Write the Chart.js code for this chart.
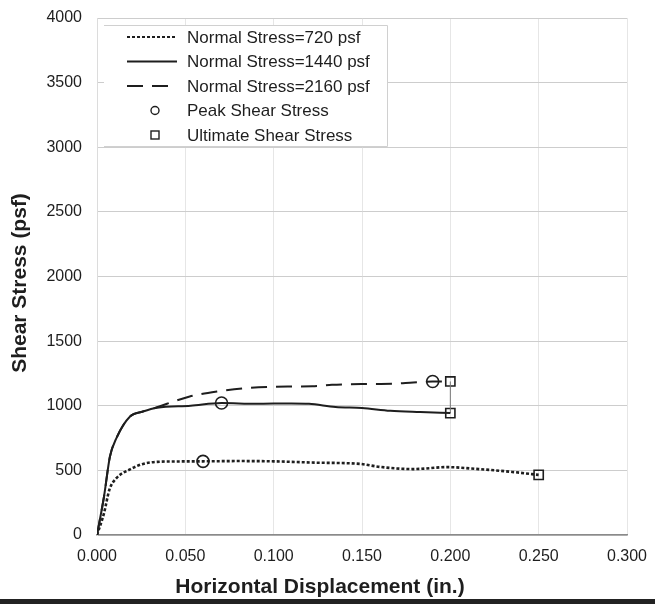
<!DOCTYPE html>
<html>
<head>
<meta charset="utf-8">
<script src="https://cdn.jsdelivr.net/npm/chart.js@4.4.0/dist/chart.umd.min.js"></script>
<style>
  html, body { margin: 0; padding: 0; background: #fff; }
  #wrap { width: 655px; height: 604px; }
</style>
</head>
<body>
<div id="wrap"><canvas id="chart" width="655" height="604"></canvas></div>
<script>
const xTitle = 'Horizontal Displacement (in.)';
const yTitle = 'Shear Stress (psf)';

// normal stress = 720 psf
const disp720 = [0, 0.004, 0.007, 0.011, 0.019, 0.026, 0.034, 0.045, 0.060, 0.080, 0.100, 0.123, 0.149, 0.160, 0.179, 0.198, 0.216, 0.235, 0.250];
const stress720 = [0, 170, 350, 440, 510, 550, 566, 569, 570, 572, 570, 560, 550, 527, 510, 525, 510, 488, 465];

// normal stress = 1440 psf
const disp1440 = [0, 0.004, 0.0073, 0.011, 0.0187, 0.026, 0.034, 0.053, 0.0705, 0.090, 0.110, 0.120, 0.135, 0.150, 0.166, 0.183, 0.200];
const stress1440 = [0, 300, 605, 750, 917, 955, 984, 1000, 1021, 1015, 1018, 1015, 990, 982, 961, 951, 943];

// normal stress = 2160 psf
const disp2160 = [0, 0.004, 0.0073, 0.011, 0.0187, 0.026, 0.031, 0.0525, 0.068, 0.085, 0.108, 0.122, 0.133, 0.152, 0.167, 0.179, 0.190, 0.200];
const stress2160 = [0, 300, 605, 750, 917, 955, 975, 1072, 1111, 1137, 1148, 1150, 1162, 1168, 1170, 1180, 1188, 1188];

// peak and ultimate points (720, 1440, 2160)
const peakDisp = [0.060, 0.0705, 0.190];
const peakStress = [570, 1021, 1188];
const ultDisp = [0.250, 0.200, 0.200];
const ultStress = [465, 943, 1188];

const ink = '#1e1e1e';
const font = '"Liberation Sans", Arial, sans-serif';

const pts = (xs, ys) => xs.map((x, i) => ({ x: x, y: ys[i] }));

const chart = document.getElementById('chart').getContext('2d');

const legendBox = {
    id: 'legendBox',
    afterDraw(c) {
        const ctx = c.ctx;
        ctx.save();
        // axis titles
        ctx.fillStyle = ink;
        ctx.font = 'bold 21px ' + font;
        ctx.textAlign = 'center';
        ctx.textBaseline = 'middle';
        ctx.fillText(xTitle, 320, 587);
        ctx.save();
        ctx.translate(20, 283);
        ctx.rotate(-Math.PI / 2);
        ctx.fillText(yTitle, 0, 0);
        ctx.restore();

        // scan edge at the bottom
        ctx.fillStyle = '#222';
        ctx.fillRect(0, 599, 655, 5);

        // legend inside the plot
        ctx.fillStyle = '#fff';
        ctx.fillRect(104, 25, 284, 121);
        ctx.strokeStyle = '#d0d0d0';
        ctx.lineWidth = 1;
        ctx.beginPath();
        ctx.moveTo(104, 25.5); ctx.lineTo(387.5, 25.5); ctx.lineTo(387.5, 146.5); ctx.lineTo(104, 146.5);
        ctx.stroke();

        ctx.font = '17px ' + font;
        ctx.textAlign = 'left';
        let y = 37;
        c.data.datasets.forEach(ds => {
            if (!ds.label) return;
            ctx.strokeStyle = ink;
            if (ds.showLine === false) {
                ctx.lineWidth = 1.4;
                ctx.setLineDash([]);
                if (ds.pointStyle === 'rect') {
                    ctx.strokeRect(151, y - 4, 8, 8);
                } else {
                    ctx.beginPath();
                    ctx.arc(155, y, 4, 0, Math.PI * 2);
                    ctx.stroke();
                }
            } else {
                ctx.lineWidth = Math.min(ds.borderWidth, 2);
                ctx.setLineDash(ds.borderDash || []);
                ctx.beginPath();
                ctx.moveTo(127, y);
                ctx.lineTo(177, y);
                ctx.stroke();
            }
            ctx.setLineDash([]);
            ctx.fillStyle = ink;
            ctx.fillText(ds.label, 187, y + 1);
            y += 24.5;
        });
        ctx.restore();
    }
};

const lineSet = (label, xs, ys, dash, w) => ({
    label: label,
    data: pts(xs, ys),
    showLine: true,
    borderColor: ink,
    borderWidth: w,
    borderDash: dash,
    pointRadius: 0,
    fill: false,
    cubicInterpolationMode: 'monotone'
});

const myChart = new Chart(chart, {
    type: 'scatter',
    data: {
        datasets: [
            lineSet('Normal Stress=720 psf', disp720, stress720, [3, 2], 2.6),
            lineSet('Normal Stress=1440 psf', disp1440, stress1440, [], 2),
            lineSet('Normal Stress=2160 psf', disp2160, stress2160, [16, 9], 2),
            {
                // thin connector between the two ultimate points at 0.200
                data: pts(ultDisp.slice(1), ultStress.slice(1)),
                showLine: true,
                borderColor: '#777',
                borderWidth: 1,
                pointRadius: 0
            },
            {
                label: 'Peak Shear Stress',
                data: pts(peakDisp, peakStress),
                showLine: false,
                pointStyle: 'circle',
                pointRadius: 6,
                borderColor: ink,
                borderWidth: 1.6,
                backgroundColor: 'rgba(255,255,255,0)'
            },
            {
                label: 'Ultimate Shear Stress',
                data: pts(ultDisp, ultStress),
                showLine: false,
                pointStyle: 'rect',
                pointRadius: 6.5,
                borderColor: ink,
                borderWidth: 1.6,
                backgroundColor: 'rgba(255,255,255,0)'
            }
        ]
    },
    options: {
        responsive: false,
        animation: false,
        devicePixelRatio: 1,
        layout: { padding: { left: 0, top: 18, right: 28, bottom: 0 } },
        plugins: {
            legend: { display: false },
            tooltip: { enabled: false }
        },
        scales: {
            x: {
                type: 'linear',
                min: 0,
                max: 0.3,
                afterFit: s => { s.height = 69; s.paddingLeft = 0; s.paddingRight = 0; },
                ticks: {
                    stepSize: 0.05,
                    padding: 12,
                    color: ink,
                    font: { size: 16, family: font },
                    callback: v => v.toFixed(3)
                },
                grid: { color: '#e6e6e6', drawTicks: false },
                border: { color: '#8a8a8a', width: 1.5 }
            },
            y: {
                min: 0,
                max: 4000,
                afterFit: s => { s.width = 97; s.paddingTop = 0; s.paddingBottom = 0; },
                ticks: {
                    stepSize: 500,
                    padding: 15,
                    color: ink,
                    font: { size: 16, family: font },
                    callback: v => String(v)
                },
                grid: { color: '#cdcdcd', drawTicks: false },
                border: { color: '#dcdcdc' }
            }
        }
    },
    plugins: [legendBox]
});
</script>
</body>
</html>
